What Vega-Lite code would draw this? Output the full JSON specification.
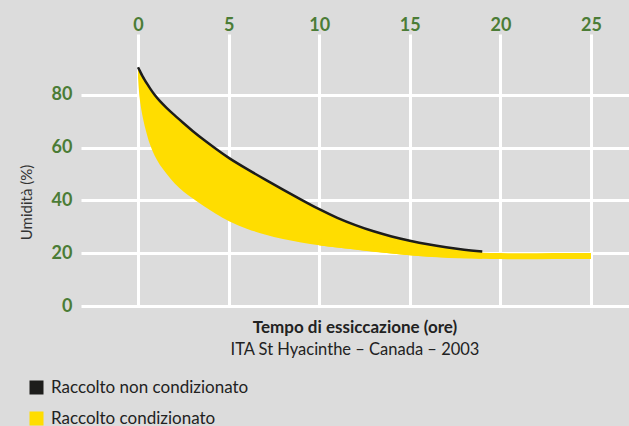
{
  "$schema": "https://vega.github.io/schema/vega-lite/v6.json",
  "width": 548,
  "height": 272,
  "autosize": "none",
  "padding": {"left": 81, "top": 34, "right": 0, "bottom": 120},
  "background": "#dcdcdc",
  "config": {
    "view": {"fill": "#dcdcdc", "stroke": null},
    "font": "Lato",
    "axis": {"domain": false, "ticks": false, "tickSize": 0, "gridColor": "#ffffff", "gridWidth": 3, "gridOpacity": 1,
             "labelFont": "Lato", "labelFontSize": 18, "labelFontWeight": "bold", "labelColor": "#4b7c36"}
  },
  "title": {
    "text": "Tempo di essiccazione (ore)",
    "subtitle": "ITA St Hyacinthe – Canada – 2003",
    "orient": "top",
    "anchor": "middle",
    "offset": 0,
    "dy": 343,
    "font": "Lato", "fontSize": 17, "fontWeight": "bold", "color": "#222222",
    "subtitleFont": "Lato", "subtitleFontSize": 16.5, "subtitleColor": "#222222", "subtitlePadding": 5
  },
  "data": {
    "values": [
      {"t": 0, "non": 90.4, "low": 86.5},
      {"t": 0.04, "non": 89.8, "low": 82.0},
      {"t": 0.08, "non": 89.3, "low": 79.0},
      {"t": 0.15, "non": 88.3, "low": 75.5},
      {"t": 0.23, "non": 87.2, "low": 72.3},
      {"t": 0.35, "non": 85.8, "low": 68.5},
      {"t": 0.5, "non": 84.1, "low": 64.6},
      {"t": 0.67, "non": 82.3, "low": 60.7},
      {"t": 0.9, "non": 80.0, "low": 57.0},
      {"t": 1.2, "non": 77.6, "low": 53.3},
      {"t": 1.56, "non": 75.1, "low": 50.2},
      {"t": 2.0, "non": 72.3, "low": 46.3},
      {"t": 2.5, "non": 69.3, "low": 43.3},
      {"t": 3.0, "non": 66.3, "low": 40.8},
      {"t": 3.67, "non": 62.7, "low": 37.6},
      {"t": 4.3, "non": 59.5, "low": 34.8},
      {"t": 5, "non": 56.0, "low": 32.0},
      {"t": 6, "non": 51.9, "low": 29.2},
      {"t": 7, "non": 47.9, "low": 27.0},
      {"t": 8, "non": 44.1, "low": 25.3},
      {"t": 9, "non": 40.3, "low": 24.0},
      {"t": 10, "non": 36.6, "low": 23.0, "tail": 24.1},
      {"t": 11, "non": 33.3, "low": 22.2, "tail": 23.3},
      {"t": 12, "non": 30.6, "low": 21.4, "tail": 22.5},
      {"t": 13, "non": 28.2, "low": 20.6, "tail": 21.7},
      {"t": 14, "non": 26.3, "low": 19.9, "tail": 21.0},
      {"t": 15, "non": 24.7, "low": 19.2, "tail": 20.3},
      {"t": 16, "non": 23.3, "low": 18.7, "tail": 19.8},
      {"t": 17, "non": 22.2, "low": 18.3, "tail": 19.4},
      {"t": 18, "non": 21.3, "low": 18.1, "tail": 19.2},
      {"t": 19, "non": 20.6, "low": 17.9, "tail": 19.0},
      {"t": 20, "tail": 18.9},
      {"t": 21, "tail": 18.85},
      {"t": 22, "tail": 18.85},
      {"t": 23, "tail": 18.9},
      {"t": 24, "tail": 18.9},
      {"t": 25, "tail": 18.95}
    ]
  },
  "encoding": {
    "x": {
      "field": "t", "type": "quantitative",
      "scale": {"domain": [-3.15, 27.1], "nice": false, "zero": false},
      "axis": {"orient": "top", "values": [0, 5, 10, 15, 20, 25], "title": null, "labelPadding": 4, "labelBaseline": "alphabetic", "labelFlush": false}
    }
  },
  "layer": [
    {
      "transform": [{"filter": "isValid(datum.non)"}],
      "mark": {"type": "area", "color": "#ffdd00", "interpolate": "basis"},
      "encoding": {
        "y": {
          "field": "non", "type": "quantitative",
          "scale": {"domain": [0, 103], "nice": false},
          "axis": {"values": [0, 20, 40, 60, 80], "title": "Umidità (%)", "labelPadding": 9,
                   "titleFont": "Lato", "titleFontSize": 15, "titleFontWeight": "normal", "titleColor": "#333333",
                   "titleX": -47, "titleY": 168, "titleBaseline": "bottom", "labelFlush": false}
        },
        "y2": {"field": "low"}
      }
    },
    {
      "transform": [{"filter": "isValid(datum.tail)"}],
      "mark": {"type": "line", "strokeWidth": 6, "interpolate": "basis", "strokeCap": "butt"},
      "encoding": {
        "y": {"field": "tail", "type": "quantitative",
              "axis": {"values": [0, 20, 40, 60, 80], "title": "Umidità (%)", "labelPadding": 9,
                   "titleFont": "Lato", "titleFontSize": 15, "titleFontWeight": "normal", "titleColor": "#333333",
                   "titleX": -47, "titleY": 168, "titleBaseline": "bottom", "labelFlush": false}},
        "color": {"datum": "Raccolto condizionato", "type": "nominal",
                  "scale": {"domain": ["Raccolto non condizionato", "Raccolto condizionato"], "range": ["#1d1d1b", "#ffdd00"]}}
      }
    },
    {
      "transform": [{"filter": "isValid(datum.non)"}],
      "mark": {"type": "line", "strokeWidth": 2.5, "interpolate": "basis", "strokeCap": "butt"},
      "encoding": {
        "y": {"field": "non", "type": "quantitative",
              "axis": {"values": [0, 20, 40, 60, 80], "title": "Umidità (%)", "labelPadding": 9,
                   "titleFont": "Lato", "titleFontSize": 15, "titleFontWeight": "normal", "titleColor": "#333333",
                   "titleX": -47, "titleY": 168, "titleBaseline": "bottom", "labelFlush": false}},
        "color": {"datum": "Raccolto non condizionato", "type": "nominal",
                  "scale": {"domain": ["Raccolto non condizionato", "Raccolto condizionato"], "range": ["#1d1d1b", "#ffdd00"]},
                  "legend": {"orient": "none", "legendX": -53, "legendY": 345, "direction": "vertical", "title": null,
                             "symbolType": "square", "symbolSize": 196, "symbolStrokeWidth": 0, "labelLimit": 0,
                             "labelFont": "Lato", "labelFontSize": 17, "labelColor": "#222222",
                             "rowPadding": 13, "labelOffset": 6, "padding": 0, "symbolOpacity": 1,
                             "encode": {"symbols": {"update": {"fill": {"scale": "color", "field": "value"}, "strokeWidth": {"value": 0}, "opacity": {"value": 1}}}}}
        }
      }
    }
  ]
}
